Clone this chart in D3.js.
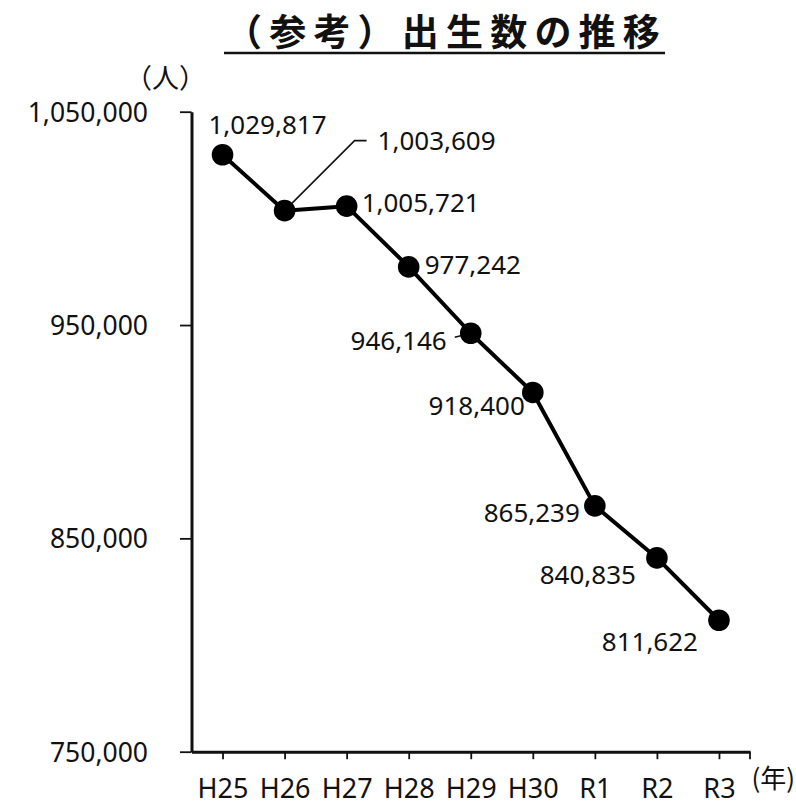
<!DOCTYPE html>
<html lang="ja">
<head>
<meta charset="utf-8">
<script src="https://cdn.jsdelivr.net/npm/d3@7"></script>
<style>
  html, body { margin: 0; padding: 0; background: #fff; }
  svg { display: block; }
  .num { font-family: "Noto Sans", "Open Sans", sans-serif; font-size: 26px; fill: #111; }
  .jp { font-family: "Noto Sans CJK JP", sans-serif; fill: #111; }
</style>
</head>
<body>
<svg id="chart" width="796" height="806"></svg>
<script>
// 出生数（人）
const years = ["H25", "H26", "H27", "H28", "H29", "H30", "R1", "R2", "R3"];
const births = [1029817, 1003609, 1005721, 977242, 946146, 918400, 865239, 840835, 811622];
const yTicks = [750000, 850000, 950000, 1050000];

// placement of each value label relative to its marker: [anchor, dx, dy]
const labelPlace = [
  ["middle", 45, -30],
  ["start", 93, -70],
  ["start", 15, -4],
  ["start", 16, -2],
  ["end", -24, 7],
  ["end", -8, 13],
  ["end", -15, 7],
  ["end", -21, 17],
  ["end", -21, 21]
];

const svg = d3.select("#chart");
const plotLeft = 191.5, plotRight = 750, plotTop = 111.7, plotBottom = 751.7;

const x = d3.scalePoint().domain(years).range([plotLeft, plotRight]).padding(0.5);
const y = d3.scaleLinear().domain([750000, 1050000]).range([plotBottom, plotTop]);

// title
svg.append("text")
  .attr("class", "jp")
  .attr("x", 225).attr("y", 46)
  .attr("font-size", 37).attr("font-weight", 700)
  .attr("letter-spacing", 7.2)
  .text("（参考）出生数の推移");
svg.append("line")
  .attr("x1", 224).attr("x2", 665).attr("y1", 53).attr("y2", 53)
  .attr("stroke", "#111").attr("stroke-width", 2.5);

// unit labels
svg.append("text").attr("class", "jp").attr("font-size", 27)
  .attr("x", 125).attr("y", 88).text("（人）");
svg.append("text").attr("class", "jp").attr("font-size", 26)
  .attr("text-anchor", "end")
  .attr("x", 795).attr("y", 788).text("(年)");

// y axis
const yAxis = svg.append("g")
  .attr("transform", `translate(${plotLeft},0)`)
  .call(d3.axisLeft(y).tickValues(yTicks).tickFormat(d3.format(",")).tickSize(11.5).tickSizeOuter(0).tickPadding(32));
yAxis.attr("font-family", "Noto Sans, Open Sans, sans-serif").attr("font-size", 26.5);
yAxis.select(".domain").attr("stroke", "#111").attr("stroke-width", 3);
yAxis.selectAll(".tick line").attr("stroke", "#111").attr("stroke-width", 1.8);
yAxis.selectAll(".tick text").attr("fill", "#111").attr("dy", "0.36em");

// x axis
const xAxis = svg.append("g")
  .attr("transform", `translate(0,${plotBottom})`)
  .call(d3.axisBottom(x).tickSize(7.5).tickSizeOuter(0).tickPadding(0));
xAxis.attr("font-family", "Noto Sans, Open Sans, sans-serif").attr("font-size", 27);
xAxis.select(".domain").attr("stroke", "#111").attr("stroke-width", 3);
xAxis.selectAll(".tick line").attr("stroke", "#111").attr("stroke-width", 1.8);
xAxis.selectAll(".tick text").attr("fill", "#111").attr("y", 46).attr("dy", 0);
xAxis.append("line")
  .attr("x1", plotRight).attr("x2", plotRight).attr("y1", 0).attr("y2", 7.5)
  .attr("stroke", "#111").attr("stroke-width", 1.8);

const pts = years.map((c, i) => ({ c, v: births[i], px: x(c), py: y(births[i]), place: labelPlace[i] }));

// leader lines for labels set away from their markers
const leaderH26 = pts[1];
svg.append("path")
  .attr("d", d3.line()([
    [leaderH26.px, leaderH26.py],
    [leaderH26.px + 70, leaderH26.py + leaderH26.place[2]],
    [leaderH26.px + 82, leaderH26.py + leaderH26.place[2]]
  ]))
  .attr("fill", "none").attr("stroke", "#111").attr("stroke-width", 1.6);
const leaderH29 = pts[4];
svg.append("line")
  .attr("x1", leaderH29.px - 16).attr("y1", leaderH29.py + 4)
  .attr("x2", leaderH29.px).attr("y2", leaderH29.py)
  .attr("stroke", "#111").attr("stroke-width", 1.6);

// series line
svg.append("path")
  .datum(pts)
  .attr("d", d3.line().x(d => d.px).y(d => d.py))
  .attr("fill", "none").attr("stroke", "#000").attr("stroke-width", 4)
  .attr("stroke-linejoin", "round");

// markers
svg.selectAll("circle.mk").data(pts).join("circle")
  .attr("class", "mk")
  .attr("cx", d => d.px).attr("cy", d => d.py).attr("r", 10.8)
  .attr("fill", "#000");

// value labels
svg.selectAll("text.val").data(pts).join("text")
  .attr("class", "num val")
  .attr("text-anchor", d => d.place[0])
  .attr("x", d => d.px + d.place[1])
  .attr("y", d => d.py + d.place[2])
  .attr("dy", "0.36em")
  .text(d => d3.format(",")(d.v));
</script>
</body>
</html>
